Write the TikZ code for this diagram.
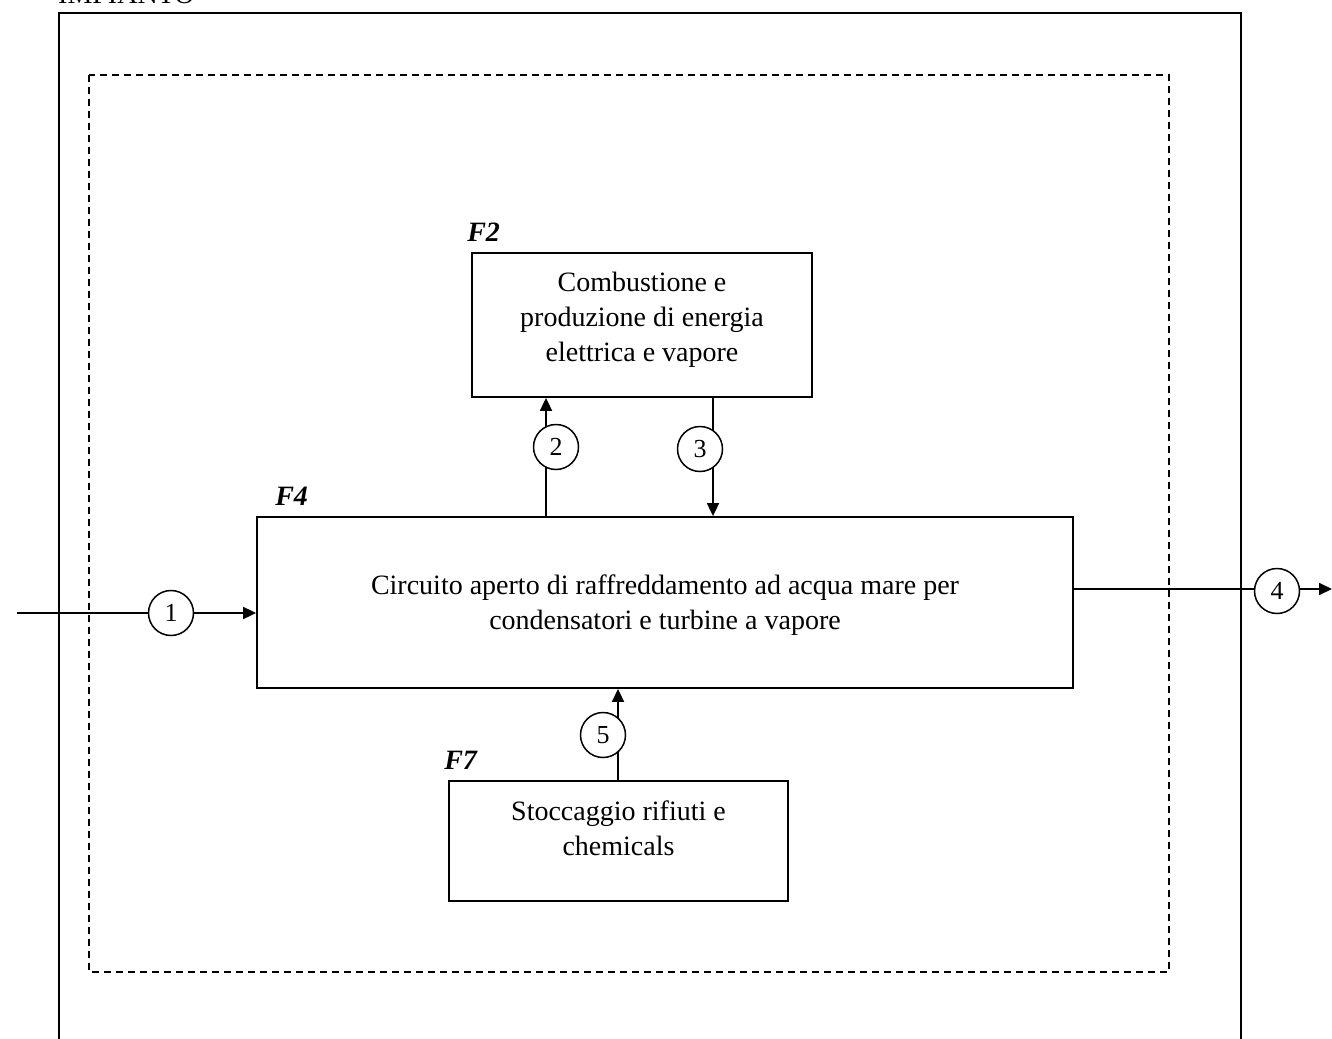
\documentclass[tikz,border=0pt]{standalone}
\usepackage{fontspec}
\setmainfont{Liberation Serif}
\usetikzlibrary{arrows.meta,calc}
\begin{document}
\begin{tikzpicture}[x=1pt,y=-1pt,
  every node/.style={font=\fontsize{28}{35}\selectfont},
  blk/.style={draw, line width=1.8pt, inner sep=0pt},
  body/.style={align=center, inner sep=0pt},
  num/.style={circle, draw, line width=1.5pt, fill=white, minimum size=45pt, inner sep=0pt,
    font=\fontsize{26}{30}\selectfont},
  tag/.style={font=\fontsize{28}{35}\selectfont\bfseries\itshape, anchor=base west, inner sep=0pt},
  flow/.style={line width=1.8pt, -{Triangle[length=13pt,width=12pt]}}]
\useasboundingbox (0,0) rectangle (1332,1038);

% plant boundary and its title
\node[anchor=base west, inner sep=0pt] (plant) at (58,4) {IMPIANTO};
\draw[line width=2pt] (59,1100) -- (59,13) -- (1241,13) -- (1241,1100);

% dashed boundary of the phases
\draw[line width=1.5pt, dash pattern=on 7pt off 5pt] (89,75) rectangle (1169,972);

% phase blocks
\node[blk, minimum width=340pt, minimum height=144pt] (f2) at (642,325) {};
\node[body] (f2t) at (642,320) {Combustione e\\produzione di energia\\elettrica e vapore};
\node[tag] (f2l) at ($(f2.north west)+(-4,-11)$) {F2};

\node[blk, minimum width=816pt, minimum height=171pt] (main) at (665,602.5) {};
\node[body] (maint) at (665,605.5)
  {Circuito aperto di raffreddamento ad acqua mare per\\condensatori e turbine a vapore};
\node[tag] (f4l) at ($(main.north west)+(19,-11)$) {F4};

\node[blk, minimum width=339pt, minimum height=120pt] (f7) at (618.5,841) {};
\node[body] (f7t) at (618.5,828) {Stoccaggio rifiuti e\\chemicals};
\node[tag] (f7l) at ($(f7.north west)+(-4,-11)$) {F7};

% flows
\coordinate (src1) at (17,613);
\draw[flow] (src1) -- (src1 -| main.west);
\coordinate (x2) at (546,0);
\draw[flow] (x2 |- main.north) -- (x2 |- f2.south);
\coordinate (x3) at (713,0);
\draw[flow] (x3 |- f2.south) -- (x3 |- main.north);
\coordinate (out4) at (1332,589);
\draw[flow] (out4 -| main.east) -- (out4);
\coordinate (x5) at (618,0);
\draw[flow] (x5 |- f7.north) -- (x5 |- main.south);

% flow numbers
\node[num] (n1) at (171,613) {1};
\node[num] (n2) at (556,447) {2};
\node[num] (n3) at (700,449) {3};
\node[num] (n4) at (1277,591) {4};
\node[num] (n5) at (603,735) {5};
\end{tikzpicture}
\end{document}
